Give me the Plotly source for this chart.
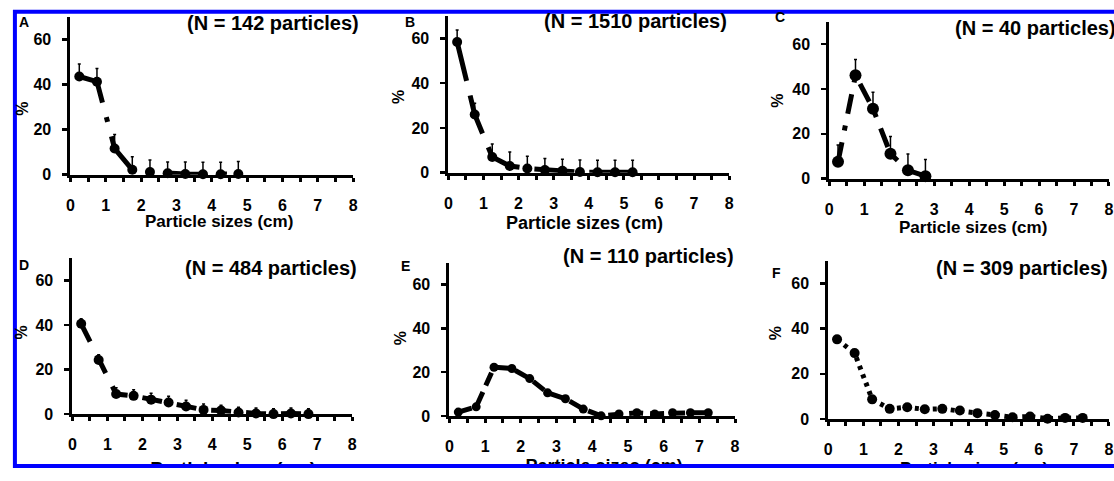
import plotly.graph_objects as go

W, H = 1114, 481

# ---------------- data ----------------
bin_centers = [0.25, 0.75, 1.25, 1.75, 2.25, 2.75, 3.25, 3.75, 4.25, 4.75, 5.25, 5.75, 6.25, 6.75, 7.25]
x_tick_labels = ["0", "1", "2", "3", "4", "5", "6", "7", "8"]
y_tick_values = [0, 20, 40, 60]

panel_letters = ["A", "B", "C", "D", "E", "F"]
n_particles = [142, 1510, 40, 484, 110, 309]
x_title = "Particle sizes (cm)"
y_title = "%"

A_pct = [43.5, 41.2, 11.6, 2.2, 1.2, 0.6, 0.3, 0.2, 0.2, 0.3]
A_err = [5.5, 5.8, 6.2, 5.7, 5.3, 5.0, 5.3, 5.3, 5.3, 5.5]

B_pct = [58.3, 26.0, 7.0, 3.0, 1.9, 1.2, 0.9, 0.3, 0.2, 0.2, 0.2]
B_err = [5.4, 5.0, 5.8, 6.2, 5.4, 5.1, 5.1, 5.4, 5.4, 5.4, 5.4]

C_pct = [7.5, 46.1, 31.2, 11.1, 3.7, 1.1]
C_err = [7.5, 7.0, 7.3, 7.7, 7.3, 7.4]

D_pct = [40.6, 24.3, 9.0, 8.2, 6.5, 5.2, 3.4, 1.9, 1.6, 0.7, 0.3, 0.0, 0.3, 0.0]
D_err = [2.3, 2.4, 2.9, 2.8, 2.9, 2.8, 2.8, 2.6, 2.4, 2.4, 2.4, 2.4, 2.4, 2.4]

E_pct = [1.8, 4.2, 22.3, 21.7, 17.1, 10.6, 7.9, 3.2, 0.1, 1.0, 1.5, 1.0, 1.5, 1.5, 1.5]
E_err = [1.0, 1.0, 1.2, 1.0, 1.0, 1.0, 1.0, 1.0, 1.0, 1.0, 1.0, 1.0, 1.0, 1.0, 1.0]

F_pct = [35.3, 29.2, 8.7, 4.5, 5.2, 4.3, 4.5, 3.8, 2.6, 1.8, 0.8, 1.1, 0.1, 0.5, 0.5]
F_err = [1.5, 1.5, 1.5, 1.5, 1.5, 1.5, 1.5, 1.5, 1.5, 1.5, 1.5, 1.5, 1.5, 1.5, 1.5]

series_pct = [A_pct, B_pct, C_pct, D_pct, E_pct, F_pct]
series_err = [A_err, B_err, C_err, D_err, E_err, F_err]

# ---------------- layout geometry (pixels) ----------------
geom = [
    dict(x0=67, x8=352, y0=178, y60=40),
    dict(x0=448, x8=731, y0=176, y60=39),
    dict(x0=832, x8=1114, y0=182, y60=45),
    dict(x0=69, x8=351, y0=422, y60=286),
    dict(x0=449, x8=737, y0=424, y60=290),
    dict(x0=831, x8=1114, y0=427, y60=289),
]
styles = [
    dict(dash="40px,15px,5px,15px", width=5, msize=10),
    dict(dash="40px,15px", width=5, msize=10),
    dict(dash="20px,12px,5px,12px", width=5, msize=12),
    dict(dash="20px,15px", width=5, msize=10),
    dict(dash="14px,7px", width=5, msize=9),
    dict(dash="4px,5px", width=5, msize=10),
]
title_pos = [  # (anchor, x, y-center)
    ("right", 360, 23), ("right", 731, 21), ("left", 957, 29),
    ("right", 358, 273), ("right", 738, 261), ("left", 938, 273),
]
letter_pos = [(13, 22), (402, 22), (775, 17), (13, 270), (398, 271), (772, 278)]
pct_pos = [(19, 111), (397, 99), (779, 103), (18, 339), (400, 345), (778, 340)]
xtitle_pos = [(217, 226, 17), (585, 227, 18), (977, 232, 17),
              (231, 479, 19), (605, 476, 18), (978, 479, 17)]

FONT = "Liberation Sans, Arial, sans-serif"


def px(x):
    return x / W


def py(y):
    return 1 - y / H


fig = go.Figure()
layout = dict(
    width=W, height=H,
    margin=dict(l=0, r=0, t=0, b=0),
    paper_bgcolor="white", plot_bgcolor="rgba(0,0,0,0)",
    showlegend=False,
    font=dict(family=FONT, color="black"),
)
annotations = []

for i in range(6):
    g = geom[i]
    s = styles[i]
    sfx = "" if i == 0 else str(i + 1)
    n = len(series_pct[i])
    ypu = (g["y0"] - g["y60"]) / 60.0
    ytop = g["y0"] - 70 * ypu
    fig.add_trace(go.Scatter(
        x=bin_centers[:n], y=series_pct[i],
        mode="lines+markers",
        line=dict(color="black", width=s["width"], dash=s["dash"]),
        marker=dict(size=s["msize"], color="black"),
        error_y=dict(type="data", array=series_err[i], arrayminus=[0] * n,
                     symmetric=False, color="black", thickness=1.5, width=1.5),
        cliponaxis=False,
        xaxis="x" + sfx, yaxis="y" + sfx,
        hoverinfo="skip",
    ))
    layout["xaxis" + sfx] = dict(
        domain=[px(g["x0"]), px(g["x8"])], range=[0, 8], anchor="y" + sfx,
        showgrid=False, zeroline=False, showline=True, linecolor="black", linewidth=3,
        tickmode="array", tickvals=list(range(9)), ticktext=x_tick_labels,
        ticks="outside", ticklen=4, tickwidth=3, tickcolor="black",
        minor=dict(dtick=0.5, tick0=0, ticks="outside", ticklen=4, tickwidth=3, tickcolor="black"),
        tickfont=dict(family=FONT, size=16, color="black", weight="bold"),
        ticklabelstandoff=10, fixedrange=True,
    )
    layout["yaxis" + sfx] = dict(
        domain=[py(g["y0"]), py(ytop)], range=[0, 70], anchor="x" + sfx,
        showgrid=False, zeroline=False, showline=True, linecolor="black", linewidth=3,
        tickmode="array", tickvals=y_tick_values,
        ticks="outside", ticklen=5, tickwidth=2.5, tickcolor="black",
        tickfont=dict(family=FONT, size=16, color="black", weight="bold"),
        ticklabelstandoff=8, fixedrange=True,
    )
    anc, tx, ty = title_pos[i]
    annotations.append(dict(
        text="<b>(N = %d particles)</b>" % n_particles[i], xref="paper", yref="paper",
        x=px(tx), y=py(ty), xanchor=anc, yanchor="middle", showarrow=False,
        font=dict(family=FONT, size=20, color="black"),
    ))
    lx, ly = letter_pos[i]
    annotations.append(dict(
        text="<b>%s</b>" % panel_letters[i], xref="paper", yref="paper",
        x=px(lx), y=py(ly), xanchor="left", yanchor="middle", showarrow=False,
        font=dict(family=FONT, size=14, color="black"),
    ))
    cx, cy = pct_pos[i]
    annotations.append(dict(
        text="<b>%s</b>" % y_title, xref="paper", yref="paper", textangle=-90,
        x=px(cx), y=py(cy), xanchor="center", yanchor="middle", showarrow=False,
        font=dict(family=FONT, size=16, color="black"),
    ))
    if i < 3:
        tx2, ty2, fs = xtitle_pos[i]
        annotations.append(dict(
            text="<b>%s</b>" % x_title, xref="paper", yref="paper",
            x=px(tx2), y=py(ty2), xanchor="center", yanchor="middle", showarrow=False,
            font=dict(family=FONT, size=fs, color="black"),
        ))

# bottom-row x-axis titles on a full-page pixel overlay, clipped at the page
# edge and covered by the blue frame (a shape above traces) like the original
layout["xaxis7"] = dict(domain=[0, 1], range=[0, W], visible=False, fixedrange=True, anchor="y7")
layout["yaxis7"] = dict(domain=[0, 1], range=[H, 0], visible=False, fixedrange=True, anchor="x7")
fig.add_trace(go.Scatter(
    x=[p[0] for p in xtitle_pos[3:]], y=[p[1] for p in xtitle_pos[3:]],
    text=[x_title] * 3, mode="text", textposition="middle center",
    textfont=dict(family=FONT, size=[p[2] for p in xtitle_pos[3:]], color="black", weight="bold"),
    xaxis="x7", yaxis="y7", hoverinfo="skip", cliponaxis=True,
))

shapes = [
    dict(type="rect", xref="paper", yref="paper", x0=0, x1=1, y0=0, y1=py(477),
         fillcolor="white", line=dict(width=0), layer="above"),
    dict(type="rect", xref="paper", yref="paper", x0=px(11), x1=px(W + 10), y0=py(475), y1=py(12),
         fillcolor="rgba(0,0,0,0)", line=dict(color="#0000FF", width=4), layer="above"),
]

layout["annotations"] = annotations
layout["shapes"] = shapes
fig.update_layout(**layout)

# keep the page exactly the window size: nothing may overflow the figure
page_fix = (
    "var h=document.documentElement,b=document.body;"
    "[h,b].forEach(function(e){e.style.margin='0';e.style.padding='0';"
    "e.style.overflow='hidden';e.style.width='1114px';e.style.height='481px';});"
    "var d=document.getElementById('{plot_id}');d.style.overflow='hidden';"
    "d.querySelectorAll('svg, .svg-container, .plot-container').forEach(function(s){s.style.overflow='hidden';});"
)
fig.write_html(
    "out.html",
    config={"displayModeBar": False, "staticPlot": True},
    post_script=page_fix,
)
